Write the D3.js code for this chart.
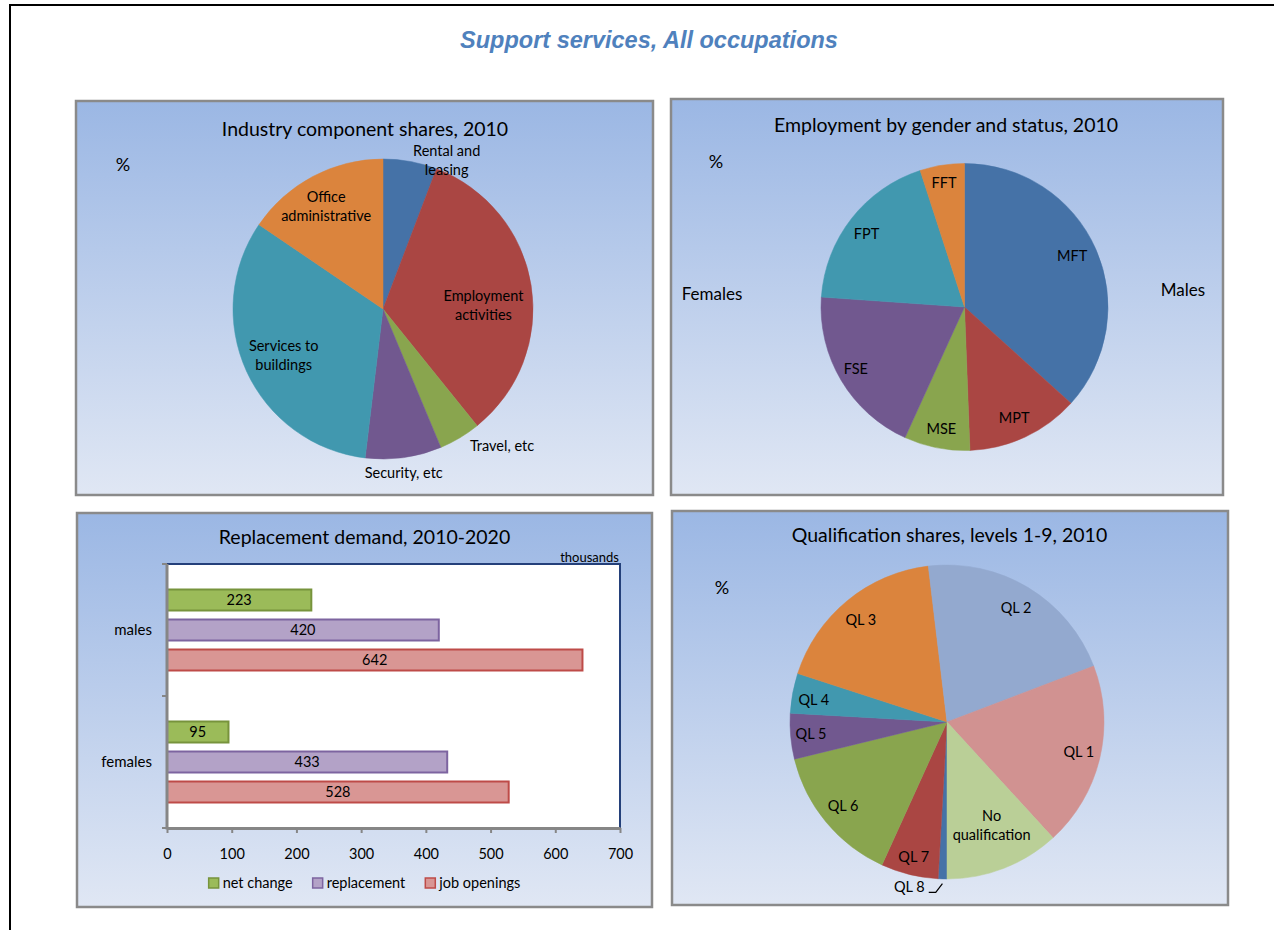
<!DOCTYPE html>
<html><head><meta charset="utf-8">
<script src="https://cdn.jsdelivr.net/npm/d3@7"></script>
<style>
body{margin:0;background:#fff}
svg{display:block}
text{font-family:Lato, "Open Sans", sans-serif}
</style>
</head><body>
<svg id="c" width="1274" height="930"></svg>
<script>
// ---------------- DATA ----------------
const industryLabels = ["Rental and\nleasing","Employment\nactivities","Travel, etc","Security, etc","Services to\nbuildings","Office\nadministrative"];
const industryShares = [5.8, 33.4, 4.5, 8.2, 32.6, 15.5];

const genderLabels = ["MFT","MPT","MSE","FSE","FPT","FFT"];
const genderShares = [36.7, 12.7, 7.4, 19.3, 18.9, 5.0];

const qualLabels = ["QL 8","QL 7","QL 6","QL 5","QL 4","QL 3","QL 2","QL 1","No\nqualification"];
const qualShares = [0.9, 5.9, 14.4, 4.7, 4.1, 18.1, 21.1, 19.0, 11.8];

const demandCategories = ["males","females"];
const demandSeries = ["net change","replacement","job openings"];
const netChange = [223, 95];
const replacement = [420, 433];
const jobOpenings = [642, 528];
const xTicks = [0,100,200,300,400,500,600,700];

// ---------------- STYLE / LAYOUT ----------------
const sixColors = ["#4572A7","#AA4643","#89A54E","#71588F","#4198AF","#DB843D"];
const qualColors = ["#4572A7","#AA4643","#89A54E","#71588F","#4198AF","#DB843D","#93A9CF","#D19291","#BACF97"];
const barFill = ["#9BBB59","#B3A2C7","#D99694"];
const barStroke = ["#77933C","#7D64A0","#BE4B48"];

const svg = d3.select("#c");
const defs = svg.append("defs");
const grad = defs.append("linearGradient").attr("id","bg").attr("x1",0).attr("y1",0).attr("x2",0).attr("y2",1);
grad.append("stop").attr("offset","0%").attr("stop-color","#9BB7E4");
grad.append("stop").attr("offset","100%").attr("stop-color","#E0E7F4");

// page frame
svg.append("line").attr("x1",10).attr("y1",4).attr("x2",10).attr("y2",930).attr("stroke","#000").attr("stroke-width",2);
svg.append("line").attr("x1",9).attr("y1",5).attr("x2",1274).attr("y2",5).attr("stroke","#000").attr("stroke-width",2);

// main title
svg.append("text").attr("x",649).attr("y",48).attr("text-anchor","middle")
  .style("font-family","'Liberation Sans', Arial, sans-serif").style("font-weight","bold").style("font-style","italic")
  .style("font-size","23.5px").attr("fill","#4F81BD").text("Support services, All occupations");

function panel(x0,y0,x1,y1,title,tx,ty){
  svg.append("rect").attr("x",x0).attr("y",y0).attr("width",x1-x0).attr("height",y1-y0)
    .attr("fill","url(#bg)").attr("stroke","#8A8A8A").attr("stroke-width",2.5);
  svg.append("text").attr("x",tx).attr("y",ty).attr("text-anchor","middle").attr("dy","0.35em")
    .style("font-size","19.5px").attr("fill","#000").text(title);
}

function multiLine(g, x, y, label, size, lh){
  const lines = label.split("\n");
  const t = g.append("text").attr("text-anchor","middle").style("font-size",size+"px").attr("fill","#000");
  lines.forEach((ln,i)=>{
    t.append("tspan").attr("x",x).attr("y", y + (i-(lines.length-1)/2)*lh).attr("dy","0.35em").text(ln);
  });
  return t;
}

function drawPie(opt){
  const g = svg.append("g").attr("transform",`translate(${opt.cx},${opt.cy})`);
  const data = opt.values.map((v,i)=>({v, label:opt.labels[i], color:opt.colors[i], k:opt.k[i], da:opt.da[i]}));
  const pie = d3.pie().sort(null).value(d=>d.v).startAngle(opt.start).endAngle(opt.start+2*Math.PI);
  const arcs = pie(data);
  const arc = d3.arc().innerRadius(0).outerRadius(opt.r);
  g.selectAll("path").data(arcs).enter().append("path")
    .attr("d",arc).attr("fill",d=>d.data.color).attr("stroke",d=>d.data.color).attr("stroke-width",0.5);
  arcs.forEach(d=>{
    const a = (d.startAngle+d.endAngle)/2 + d.data.da*Math.PI/180;
    const rr = opt.r*d.data.k;
    const p = d3.arc().innerRadius(rr).outerRadius(rr).centroid({startAngle:a,endAngle:a});
    const t = multiLine(g, p[0], p[1], d.data.label, 14.5, 19);
    if (opt.leader && opt.leader(d)) {
      const tw = t.node().getComputedTextLength();
      const m = (d.startAngle+d.endAngle)/2;
      const edge = d3.arc().innerRadius(opt.r*1.03).outerRadius(opt.r*1.03).centroid({startAngle:m,endAngle:m});
      g.append("polyline").attr("points",`${p[0]+tw/2+4},${p[1]+5} ${p[0]+tw/2+11},${p[1]+5} ${edge[0]},${edge[1]}`)
        .attr("fill","none").attr("stroke","#000").attr("stroke-width",1.2);
    }
  });
  return g;
}

// ---------- Panel 1 ----------
panel(76,101,653,495,"Industry component shares, 2010",365,129);
svg.append("text").attr("x",123).attr("y",165).attr("dy","0.35em").attr("text-anchor","middle").style("font-size","18px").text("%");
drawPie({cx:383, cy:309, r:150, labels:industryLabels, values:industryShares, colors:sixColors, start:0,
  k:[1.08,0.67,1.21,1.10,0.73,0.78], da:[12.7,6.7,-10.2,0.7,-0.4,-1.2]});

// ---------- Panel 2 ----------
panel(671,99,1223,495,"Employment by gender and status, 2010",946,125);
svg.append("text").attr("x",716).attr("y",162).attr("dy","0.35em").attr("text-anchor","middle").style("font-size","18px").text("%");
drawPie({cx:964.5, cy:307, r:143.5, labels:genderLabels, values:genderShares, colors:sixColors, start:0,
  k:[0.83,0.85,0.865,0.87,0.85,0.875], da:[-1.3,1,-0.4,1.3,-1.4,-0.4]});
svg.append("text").attr("x",712).attr("y",294).attr("dy","0.35em").attr("text-anchor","middle").style("font-size","17px").text("Females");
svg.append("text").attr("x",1183).attr("y",290).attr("dy","0.35em").attr("text-anchor","middle").style("font-size","17px").text("Males");

// ---------- Panel 4 ----------
panel(672,511,1228,905,"Qualification shares, levels 1-9, 2010",949.5,535);
svg.append("text").attr("x",722).attr("y",588).attr("dy","0.35em").attr("text-anchor","middle").style("font-size","18px").text("%");
drawPie({cx:947, cy:722, r:157, labels:qualLabels, values:qualShares, colors:qualColors, start:Math.PI,
  k:[1.08,0.885,0.85,0.87,0.86,0.85,0.85,0.86,0.72], da:[11.2,0,0.8,0.2,-1.2,-0.8,0,-0.7,-2],
  leader:d=>d.index===0});

// ---------- Panel 3 : bars ----------
panel(77,513,652,907,"Replacement demand, 2010-2020",364.5,537);
const seriesValues = [netChange, replacement, jobOpenings];
const x = d3.scaleLinear().domain([0,700]).range([167,620]);
const y0 = d3.scaleBand().domain(demandCategories).range([564,828]);
const y1 = d3.scaleBand().domain(demandSeries).range([0,y0.bandwidth()]).paddingInner(0.3).paddingOuter(0.85);

svg.append("rect").attr("x",x(0)).attr("y",y0.range()[0]).attr("width",x(700)-x(0)).attr("height",y0.range()[1]-y0.range()[0]).attr("fill","#fff");
svg.append("line").attr("x1",x(0)).attr("x2",x(700)).attr("y1",564).attr("y2",564).attr("stroke","#24407A").attr("stroke-width",2);
svg.append("line").attr("x1",x(700)).attr("x2",x(700)).attr("y1",563).attr("y2",828).attr("stroke","#24407A").attr("stroke-width",2);

const bars = [];
demandCategories.forEach((c,ci)=>{
  demandSeries.forEach((s,si)=>{
    bars.push({c, s, si, v: seriesValues[si][ci]});
  });
});
const bg = svg.append("g");
bg.selectAll("rect").data(bars).enter().append("rect")
  .attr("x",x(0)).attr("y",d=>y0(d.c)+y1(d.s)).attr("width",d=>x(d.v)-x(0)).attr("height",y1.bandwidth())
  .attr("fill",d=>barFill[d.si]).attr("stroke",d=>barStroke[d.si]).attr("stroke-width",2);
bg.selectAll("text").data(bars).enter().append("text")
  .attr("x",d=>(x(d.v)+x(0))/2).attr("y",d=>y0(d.c)+y1(d.s)+y1.bandwidth()/2).attr("dy","0.35em")
  .attr("text-anchor","middle").style("font-size","14.5px").attr("fill","#000").text(d=>d.v);

// x axis
const xa = svg.append("g").attr("transform","translate(0,828)")
  .call(d3.axisBottom(x).tickValues(xTicks).tickSize(5).tickSizeOuter(0).tickPadding(16));
xa.select(".domain").attr("stroke","#868686").attr("stroke-width",3);
xa.selectAll(".tick line").attr("stroke","#868686").attr("stroke-width",2);
xa.selectAll(".tick text").style("font-size","14.5px").style("font-family","Lato, sans-serif").attr("fill","#000");

// y axis (category)
const yEdges = demandCategories.map(c=>y0(c)).concat([y0.range()[1]]);
svg.append("line").attr("x1",x(0)).attr("x2",x(0)).attr("y1",y0.range()[0]).attr("y2",y0.range()[1]+1.5).attr("stroke","#868686").attr("stroke-width",3);
svg.selectAll(".ytick").data(yEdges).enter().append("line").attr("class","ytick")
  .attr("x1",x(0)-5).attr("x2",x(0)).attr("y1",d=>d).attr("y2",d=>d).attr("stroke","#868686").attr("stroke-width",2);
svg.selectAll(".ylab").data(demandCategories).enter().append("text").attr("class","ylab")
  .attr("x",152).attr("y",d=>y0(d)+y0.bandwidth()/2).attr("dy","0.35em").attr("text-anchor","end")
  .style("font-size","15px").text(d=>d);

svg.append("text").attr("x",619).attr("y",557).attr("dy","0.35em").attr("text-anchor","end").style("font-size","13px").text("thousands");

// legend
const lg = svg.append("g");
let lx = 0;
demandSeries.forEach((s,i)=>{
  const it = lg.append("g");
  it.append("rect").attr("x",0).attr("y",-5).attr("width",10).attr("height",10)
    .attr("fill",barFill[i]).attr("stroke",barStroke[i]).attr("stroke-width",1.5);
  const t = it.append("text").attr("x",14).attr("y",0).attr("dy","0.35em").style("font-size","14.5px").text(s);
  const w = 14 + t.node().getComputedTextLength();
  it.attr("transform",`translate(${lx},0)`);
  lx += w + 20;
});
const totalW = lx - 20;
lg.attr("transform",`translate(${(77+652)/2 - totalW/2},883)`);
</script>
</body></html>
